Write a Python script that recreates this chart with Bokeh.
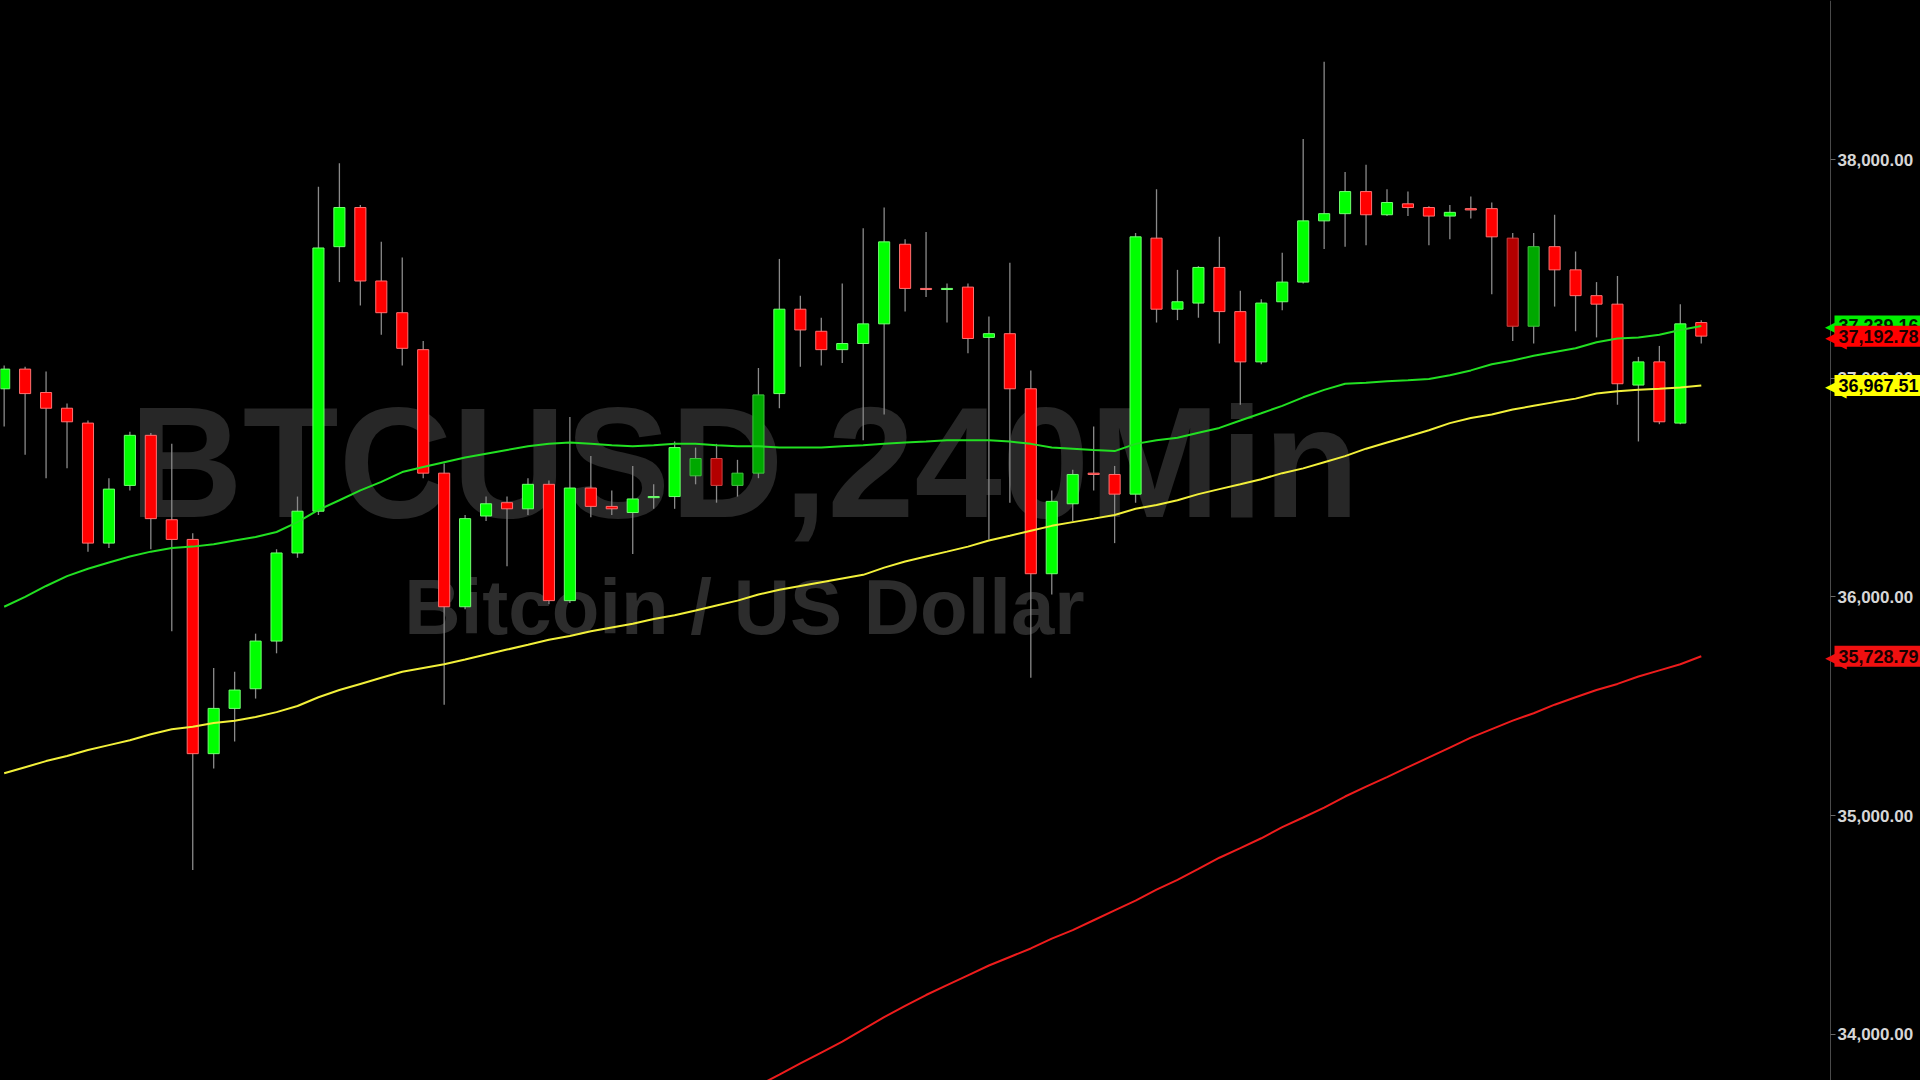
from bokeh.plotting import figure
from bokeh.models import Range1d, FixedTicker, NumeralTickFormatter, Label, LinearAxis
from bokeh.embed import file_html
from bokeh.resources import INLINE

# ---------------- data ----------------
symbol = "BTCUSD,240Min"
description = "Bitcoin / US Dollar"

bar_open = [36952, 37042, 36935, 36863, 36795, 36246, 36510, 36739, 36353, 36263,
            35283, 35490, 35580, 35798, 36201, 36392, 37602, 37781, 37445, 37300,
            37131, 36566, 35955, 36370, 36431, 36403, 36515, 35983, 36498, 36414,
            36386, 36454, 36459, 36554, 36633, 36510, 36566, 36930, 37316, 37215,
            37131, 37159, 37249, 37613, 37411, 37406, 37417, 37187, 37204, 36952,
            36106, 36426, 36566, 36560, 36470, 37641, 37316, 37344, 37507, 37305,
            37075, 37350, 37440, 37720, 37753, 37854, 37748, 37798, 37781, 37742,
            37776, 37776, 37641, 37238, 37602, 37496, 37378, 37339, 36969, 37075,
            36795, 37255]
bar_high = [37059, 37053, 37031, 36885, 36807, 36543, 36756, 36750, 36700, 36291,
            35675, 35658, 35832, 36218, 36459, 37876, 37983, 37793, 37624, 37552,
            37171, 36610, 36375, 36459, 36459, 36543, 36532, 36823, 36644, 36487,
            36599, 36515, 36711, 36683, 36700, 36627, 37047, 37546, 37378, 37277,
            37434, 37686, 37781, 37636, 37669, 37434, 37434, 37283, 37529, 37036,
            36487, 36582, 36779, 36599, 37664, 37865, 37496, 37513, 37647, 37400,
            37361, 37574, 38095, 38448, 37944, 37977, 37865, 37854, 37787, 37793,
            37832, 37804, 37664, 37664, 37748, 37580, 37440, 37468, 37098, 37148,
            37339, 37266]
bar_low = [36779, 36650, 36543, 36588, 36207, 36224, 36487, 36218, 35843, 34751,
           35215, 35339, 35535, 35742, 36179, 36375, 37440, 37333, 37199, 37059,
           36543, 35507, 35944, 36347, 36140, 36375, 35966, 35972, 36364, 36375,
           36196, 36403, 36403, 36515, 36431, 36459, 36543, 36863, 37053, 37059,
           37070, 36717, 36834, 37305, 37372, 37255, 37115, 36263, 36431, 35630,
           36011, 36347, 36487, 36246, 36431, 37255, 37266, 37277, 37159, 36879,
           37064, 37311, 37434, 37591, 37602, 37608, 37742, 37742, 37608, 37636,
           37731, 37384, 37171, 37159, 37328, 37215, 37187, 36879, 36711, 36790,
           36790, 37159]
bar_close = [37042, 36930, 36863, 36801, 36246, 36493, 36739, 36358, 36263, 35283,
             35490, 35574, 35798, 36201, 36392, 37596, 37781, 37445, 37300, 37137,
             36566, 35955, 36358, 36426, 36403, 36515, 35983, 36498, 36414, 36403,
             36448, 36459, 36683, 36633, 36510, 36566, 36924, 37316, 37221, 37131,
             37159, 37249, 37624, 37411, 37406, 37411, 37182, 37204, 36952, 36106,
             36437, 36560, 36560, 36470, 37647, 37316, 37350, 37507, 37305, 37075,
             37344, 37440, 37720, 37753, 37854, 37748, 37804, 37781, 37742, 37759,
             37770, 37647, 37238, 37602, 37496, 37378, 37339, 36975, 37075, 36801,
             37249, 37192.78]

ma_green = [35955, 36000, 36050, 36095, 36129, 36157, 36185, 36207, 36224, 36230,
            36241, 36258, 36274, 36297, 36342, 36398, 36442, 36487, 36526, 36571,
            36594, 36616, 36638, 36655, 36672, 36689, 36700, 36706, 36700, 36694,
            36689, 36694, 36700, 36700, 36694, 36689, 36689, 36683, 36683, 36683,
            36689, 36694, 36700, 36706, 36711, 36717, 36717, 36717, 36711, 36700,
            36683, 36678, 36672, 36667, 36700, 36717, 36728, 36751, 36773, 36807,
            36840, 36874, 36913, 36947, 36975, 36980, 36986, 36991, 36997, 37014,
            37036, 37064, 37081, 37103, 37120, 37137, 37165, 37182, 37187, 37199,
            37221, 37239.16]
ma_yellow = [35193, 35221, 35249, 35272, 35300, 35322, 35344, 35372, 35395, 35406,
             35423, 35434, 35451, 35473, 35501, 35541, 35574, 35602, 35630, 35658,
             35675, 35692, 35714, 35737, 35759, 35781, 35804, 35821, 35843, 35860,
             35877, 35899, 35916, 35938, 35961, 35983, 36011, 36033, 36050, 36067,
             36084, 36101, 36134, 36162, 36185, 36207, 36230, 36258, 36280, 36303,
             36325, 36342, 36358, 36375, 36403, 36420, 36442, 36470, 36493, 36515,
             36538, 36566, 36588, 36616, 36644, 36678, 36706, 36734, 36762, 36795,
             36818, 36834, 36857, 36874, 36891, 36907, 36930, 36941, 36947, 36952,
             36958, 36967.51]
nan = float("nan")
ma_red = [nan] * 35 + [
             33709, 33765, 33815, 33866, 33916, 33966, 34022, 34078, 34129, 34179,
             34224, 34269, 34314, 34353, 34392, 34437, 34476, 34521, 34566, 34611,
             34661, 34706, 34756, 34807, 34851, 34896, 34947, 34991, 35036, 35087,
             35132, 35176, 35221, 35266, 35311, 35356, 35395, 35434, 35468, 35507,
             35541, 35574, 35602, 35636, 35664, 35692, 35728.79]

price_ticks = [34000, 35000, 36000, 37000, 38000]
dim_bars = [33, 34, 35, 36, 72, 73]

# ---------------- layout / styling ----------------
UP, DOWN = "#00ff00", "#ff0000"
UP_DIM, DOWN_DIM = "#00a800", "#b30000"
UP_EDGE, DOWN_EDGE = "#70ff70", "#ff7070"
W, H = 1920, 1080
SLOT_PX = 20.952          # pixels per bar slot
X0 = -0.175               # left edge of the view, in bar slots
SCALE_PX = 1830           # where the price scale starts

n = len(bar_close)
idx = list(range(n))
tops = [max(o, c) for o, c in zip(bar_open, bar_close)]
bots = [min(o, c) for o, c in zip(bar_open, bar_close)]
fills, edges = [], []
for i, (o, c) in enumerate(zip(bar_open, bar_close)):
    up = c >= o
    if i in dim_bars:
        fills.append(UP_DIM if up else DOWN_DIM)
        edges.append("#40c040" if up else "#d04040")
    else:
        fills.append(UP if up else DOWN)
        edges.append(UP_EDGE if up else DOWN_EDGE)

p = figure(frame_width=W, frame_height=H,
           x_range=Range1d(X0, X0 + W / SLOT_PX), y_range=Range1d(33788, 38728),
           output_backend="svg", toolbar_location=None,
           x_axis_location=None, y_axis_location=None,
           background_fill_color="#000000", border_fill_color="#000000",
           outline_line_color=None, min_border=0)
p.grid.visible = False

ax = LinearAxis(fixed_location=X0 + SCALE_PX / SLOT_PX)
ax.ticker = FixedTicker(ticks=price_ticks)
ax.formatter = NumeralTickFormatter(format="0,0.00")
ax.axis_line_color = "#4a4a4a"
ax.major_tick_line_color = "#6a6a6a"
ax.major_tick_out = 5
ax.major_tick_in = 0
ax.minor_tick_line_color = None
ax.major_label_standoff = 2
ax.major_label_text_color = "#d6d6d6"
ax.major_label_text_font = "Liberation Sans"
ax.major_label_text_font_style = "bold"
ax.major_label_text_font_size = "17px"
p.add_layout(ax, "right")

# watermark
p.add_layout(Label(x=744, y=618, x_units="screen", y_units="screen", text=symbol,
                   text_align="center", text_baseline="alphabetic",
                   text_font="Liberation Sans", text_font_style="bold",
                   text_font_size="157px", text_color="#272727", level="underlay"))
p.add_layout(Label(x=744, y=474, x_units="screen", y_units="screen", text=description,
                   text_align="center", text_baseline="alphabetic",
                   text_font="Liberation Sans", text_font_style="bold",
                   text_font_size="78px", text_color="#2c2c2c", level="underlay"))

# candles
p.segment(x0=idx, y0=bar_low, x1=idx, y1=bar_high, line_color="#8a8a8a", line_width=1.3)
p.vbar(x=idx, width=0.53, top=tops, bottom=bots, fill_color=fills, line_color=edges,
       line_width=1)

# moving averages
p.line(idx, ma_red, line_color="#ee1c1c", line_width=2)
p.line(idx, ma_yellow, line_color="#f2f03a", line_width=2)
p.line(idx, ma_green, line_color="#22e022", line_width=2)

# price tags on the scale
tags = [(ma_green[-1], "#00ee00", "#001a00"),
        (bar_close[-1], "#ff0000", "#1a0000"),
        (ma_yellow[-1], "#ffff00", "#000000"),
        (ma_red[-1], "#f01010", "#1a0000")]
for v, bg, fg in tags:
    p.add_layout(Label(x=1846, y=v, x_units="screen", text="\u25C0", text_align="right",
                       text_baseline="middle", text_font="DejaVu Sans",
                       text_font_size="28px", text_color=bg, level="overlay"))
    p.add_layout(Label(x=1834, y=v, x_units="screen", text=f"{v:,.2f}", text_align="left",
                       text_baseline="middle", text_font="Liberation Sans",
                       text_font_style="bold", text_font_size="18px", text_color=fg,
                       background_fill_color=bg, padding=4, level="overlay"))

html = file_html(p, INLINE)
html = html.replace("</head>",
                    "<style>html,body{margin:0;padding:0;background:#000;overflow:hidden}</style></head>", 1)
open("out.html", "w").write(html)
